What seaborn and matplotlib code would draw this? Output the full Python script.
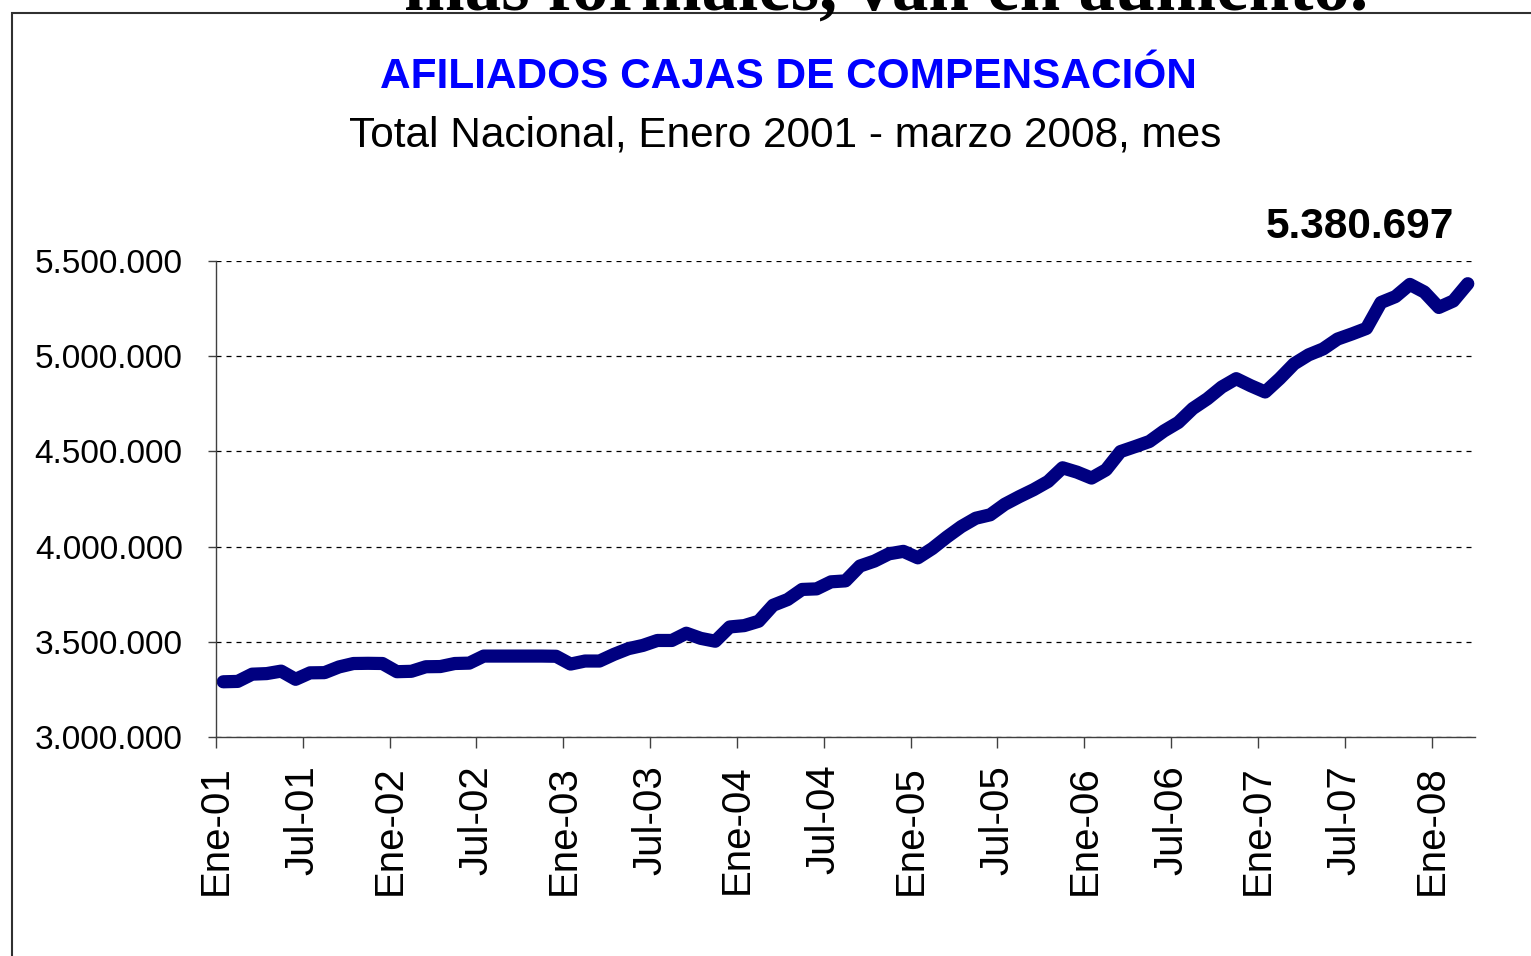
import matplotlib
matplotlib.use("Agg")
import matplotlib.pyplot as plt
import matplotlib.ticker as mticker
from matplotlib.patches import Rectangle
import seaborn as sns
import pandas as pd

# afiliados a cajas de compensacion, ene-2001 a mar-2008
afiliados = [
    3290000, 3292000, 3330000, 3333000, 3346000, 3303000, 3337000, 3338000,
    3368000, 3386000, 3387000, 3386000, 3343000, 3345000, 3369000, 3370000,
    3386000, 3388000, 3425000, 3425000, 3425000, 3425000, 3425000, 3424000,
    3383000, 3399000, 3399000, 3434000, 3464000, 3481000, 3507000, 3507000,
    3545000, 3518000, 3503000, 3578000, 3585000, 3608000, 3692000, 3722000,
    3775000, 3778000, 3815000, 3820000, 3898000, 3924000, 3962000, 3975000,
    3941000, 3990000, 4050000, 4105000, 4149000, 4167000, 4222000, 4262000,
    4299000, 4342000, 4414000, 4391000, 4360000, 4403000, 4499000, 4525000,
    4552000, 4607000, 4652000, 4725000, 4776000, 4838000, 4882000, 4845000,
    4812000, 4882000, 4960000, 5007000, 5038000, 5090000, 5117000, 5146000,
    5282000, 5313000, 5377000, 5337000, 5256000, 5290000, 5380697,
]
tick_labels = ["Ene-01", "Jul-01", "Ene-02", "Jul-02", "Ene-03", "Jul-03",
               "Ene-04", "Jul-04", "Ene-05", "Jul-05", "Ene-06", "Jul-06",
               "Ene-07", "Jul-07", "Ene-08"]
y_ticks = [3000000, 3500000, 4000000, 4500000, 5000000, 5500000]

titulo = "AFILIADOS CAJAS DE COMPENSACIÓN"
subtitulo = "Total Nacional, Enero 2001 - marzo 2008, mes"
texto_arriba = "más formales, van en aumento."

df = pd.DataFrame({"mes": range(len(afiliados)), "afiliados": afiliados})


def miles(v, pos=None):
    return f"{v:,.0f}".replace(",", ".")


sns.set_style("white")
plt.rcParams["font.family"] = ["Liberation Sans", "DejaVu Sans"]

W, H = 1531, 956
fig = plt.figure(figsize=(W / 100, H / 100), dpi=100)
ax = fig.add_axes([216 / W, 1 - 737 / H, (1475 - 216) / W, (737 - 261) / H])

sns.lineplot(data=df, x="mes", y="afiliados", ax=ax, color="#000080",
             linewidth=9.5, solid_capstyle="round", solid_joinstyle="round")

ax.set_xlim(-0.5, len(afiliados) - 0.5)
ax.set_ylim(y_ticks[0], y_ticks[-1])
ax.set_xticks([i * 6 - 0.5 for i in range(len(tick_labels))])
ax.set_xticklabels(tick_labels, rotation=90, fontsize=29)
ax.set_yticks(y_ticks)
ax.yaxis.set_major_formatter(mticker.FuncFormatter(miles))
ax.tick_params(axis="y", labelsize=24, length=6, width=1, pad=18,
               direction="out", color="#404040", left=True, labelcolor="black")
ax.tick_params(axis="x", length=8, width=1, pad=12,
               direction="out", color="#404040", bottom=True, labelcolor="black")
ax.set_xlabel("")
ax.set_ylabel("")

ax.grid(axis="y", color="black", linestyle=(0, (4, 4)), linewidth=0.9)
ax.set_axisbelow(True)
for s in ["top", "right"]:
    ax.spines[s].set_visible(False)
for s in ["left", "bottom"]:
    ax.spines[s].set_color("#404040")
    ax.spines[s].set_linewidth(1)

# etiqueta del ultimo dato
ax.annotate(miles(afiliados[-1]), xy=(len(afiliados) - 1, afiliados[-1]),
            xytext=(-10, 33), textcoords="offset points", ha="right",
            va="baseline", fontsize=30.5, fontweight="bold", color="black")

fig.text(788 / W, 1 - 88 / H, titulo, ha="center", va="baseline",
         fontsize=30.5, fontweight="bold", color="#0000ff")
fig.text(785 / W, 1 - 147 / H, subtitulo, ha="center", va="baseline",
         fontsize=30.5, color="black")

# texto de la diapositiva, cortado arriba
fig.text(886 / W, 1 - 10 / H, texto_arriba, ha="center", va="baseline",
         fontsize=52.5, fontweight="bold", family="Liberation Serif",
         color="black")

fig.patches.append(Rectangle((12 / W, -0.1), 1.2, 1.1 - 13 / H,
                             transform=fig.transFigure, fill=False,
                             edgecolor="#303030", linewidth=1.5))

fig.savefig("out.png", dpi=100)
